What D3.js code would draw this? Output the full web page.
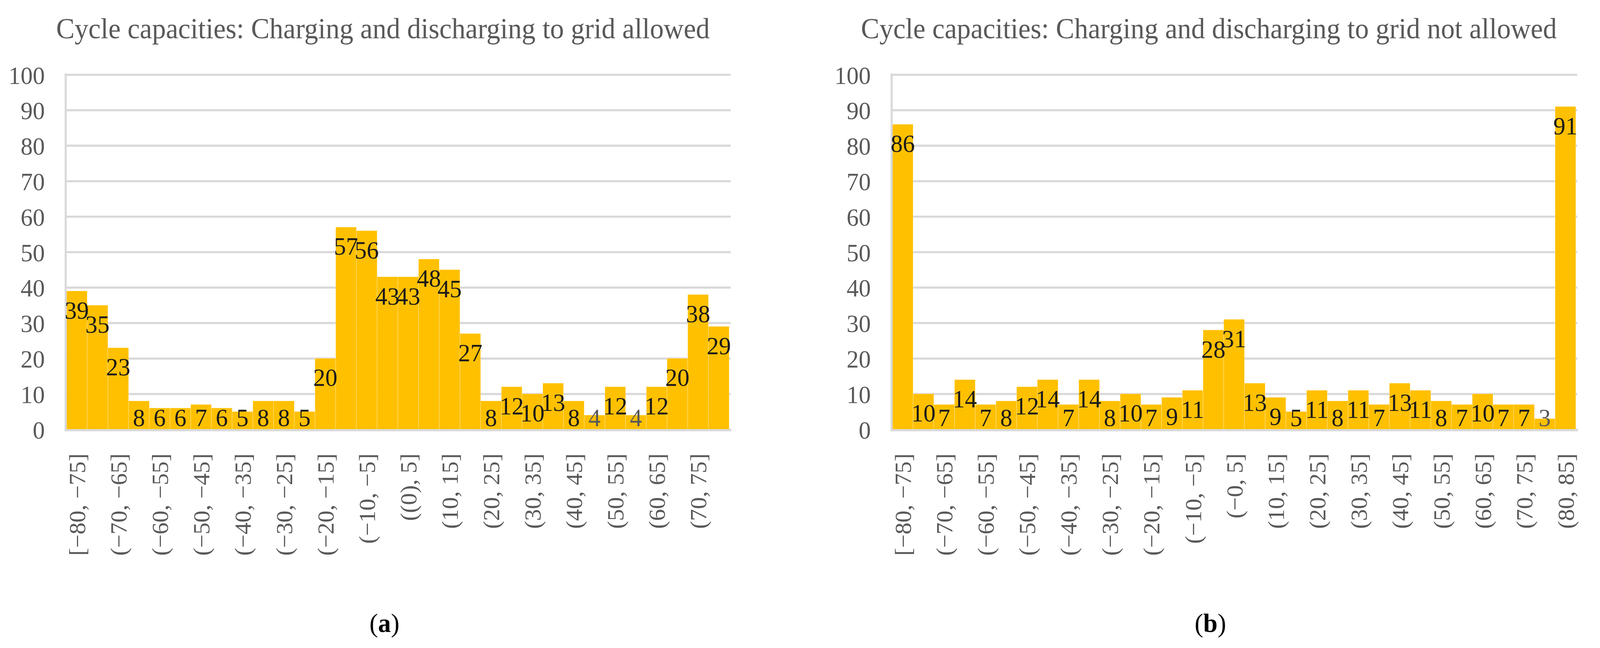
<!DOCTYPE html>
<html lang="en">
<head>
<meta charset="UTF-8">
<title>Cycle capacities</title>
<script src="https://cdn.jsdelivr.net/npm/d3@7"></script>
<style>
  html, body { margin: 0; padding: 0; width: 100%; height: 100%; overflow: hidden; background: #fff; }
  svg { display: block; width: 100vw; height: 100vh; }
  svg text { font-family: "Palatino Linotype", "Book Antiqua", Palatino, "Liberation Serif", serif; }
</style>
</head>
<body>
<svg viewBox="0 0 4226 1659" preserveAspectRatio="none"></svg>
<script>
// (a) charging and discharging to grid allowed
const binsA = ["[−80, −75]", "(−75, −70]", "(−70, −65]", "(−65, −60]", "(−60, −55]", "(−55, −50]",
  "(−50, −45]", "(−45, −40]", "(−40, −35]", "(−35, −30]", "(−30, −25]", "(−25, −20]",
  "(−20, −15]", "(−15, −10]", "(−10, −5]", "(−5, (0)]", "((0), 5]", "(5, 10]",
  "(10, 15]", "(15, 20]", "(20, 25]", "(25, 30]", "(30, 35]", "(35, 40]",
  "(40, 45]", "(45, 50]", "(50, 55]", "(55, 60]", "(60, 65]", "(65, 70]", "(70, 75]", "(75, 80]"];
const countsA = [39, 35, 23, 8, 6, 6, 7, 6, 5, 8, 8, 5, 20, 57, 56, 43, 43, 48, 45, 27,
  8, 12, 10, 13, 8, 4, 12, 4, 12, 20, 38, 29];

// (b) charging and discharging to grid not allowed
const binsB = ["[−80, −75]", "(−75, −70]", "(−70, −65]", "(−65, −60]", "(−60, −55]", "(−55, −50]",
  "(−50, −45]", "(−45, −40]", "(−40, −35]", "(−35, −30]", "(−30, −25]", "(−25, −20]",
  "(−20, −15]", "(−15, −10]", "(−10, −5]", "(−5, −0]", "(−0, 5]", "(5, 10]",
  "(10, 15]", "(15, 20]", "(20, 25]", "(25, 30]", "(30, 35]", "(35, 40]",
  "(40, 45]", "(45, 50]", "(50, 55]", "(55, 60]", "(60, 65]", "(65, 70]", "(70, 75]", "(75, 80]", "(80, 85]"];
const countsB = [86, 10, 7, 14, 7, 8, 12, 14, 7, 14, 8, 10, 7, 9, 11, 28, 31, 13, 9, 5,
  11, 8, 11, 7, 13, 11, 8, 7, 10, 7, 7, 3, 91];

const yTicks = [0, 10, 20, 30, 40, 50, 60, 70, 80, 90, 100];

const svg = d3.select("svg");
const barW = 54.7;
const gridColor = "#d9d9d9";
const grey = "#595959";
const y = d3.scaleLinear().domain([0, 100]).range([1099, 191]);

function panel(bins, counts, left, title, tag) {
  const x = d3.scaleBand().domain(bins).range([left, left + bins.length * barW]).paddingInner(0);
  const right = left + bins.length * barW;
  const g = svg.append("g");

  // gridlines + y tick labels
  const yAxis = d3.axisLeft(y).tickValues(yTicks).tickSize(-(right + 6 - left)).tickPadding(55);
  g.append("g")
    .attr("transform", `translate(${left - 2},0)`)
    .call(yAxis)
    .call(s => s.select(".domain").remove())
    .call(s => s.selectAll(".tick line").attr("stroke", gridColor).attr("stroke-width", 5.5))
    .call(s => s.selectAll(".tick text")
      .attr("fill", grey).attr("font-size", 64).attr("dy", "0.36em")
      .style("font-family", null));

  // bars
  g.append("g").selectAll("rect")
    .data(counts)
    .join("rect")
    .attr("x", (d, i) => x(bins[i]))
    .attr("y", d => y(d))
    .attr("width", x.bandwidth())
    .attr("height", d => y(0) - y(d))
    .attr("fill", "#ffc000")
    .attr("stroke", "#fff")
    .attr("stroke-opacity", 0.45)
    .attr("stroke-width", 1);

  // axis lines
  g.append("line")
    .attr("x1", left - 2).attr("x2", left - 2)
    .attr("y1", y(100) - 3).attr("y2", y(0) + 5)
    .attr("stroke", gridColor).attr("stroke-width", 5.5);
  g.append("line")
    .attr("x1", left - 5).attr("x2", right + 6)
    .attr("y1", y(0) + 2.5).attr("y2", y(0) + 2.5)
    .attr("stroke", gridColor).attr("stroke-width", 5.5);

  // data labels (inside end, pushed down to the axis for short bars)
  g.append("g").selectAll("text")
    .data(counts)
    .join("text")
    .attr("x", (d, i) => x(bins[i]) + x.bandwidth() / 2)
    .attr("y", d => Math.min(y(d) + 71, y(0) - 8))
    .attr("text-anchor", "middle")
    .attr("font-size", 64)
    .attr("fill", d => d < 5 ? grey : "#1a1a1a")
    .text(d => d);

  // category axis, every second label shown
  const xAxis = d3.axisBottom(x)
    .tickValues(bins.filter((b, i) => i % 2 === 0))
    .tickSize(0).tickPadding(0);
  g.append("g")
    .attr("transform", "translate(0,1161)")
    .call(xAxis)
    .call(s => s.select(".domain").remove())
    .call(s => s.selectAll(".tick text")
      .attr("transform", "rotate(-90)")
      .attr("text-anchor", "end")
      .attr("x", 0).attr("y", 0).attr("dy", "0.36em")
      .attr("fill", grey).attr("font-size", 61)
      .style("font-family", null));

  // title
  g.append("text")
    .attr("x", left + 836).attr("y", 98)
    .attr("text-anchor", "middle")
    .attr("font-size", 73)
    .attr("fill", grey)
    .text(title);

  // panel caption
  const cap = g.append("text")
    .attr("x", left + 840).attr("y", 1618)
    .attr("text-anchor", "middle")
    .attr("font-size", 68)
    .attr("fill", "#000");
  cap.append("tspan").text("(");
  cap.append("tspan").attr("font-weight", "bold").text(tag);
  cap.append("tspan").text(")");
}

panel(binsA, countsA, 175.5, "Cycle capacities: Charging and discharging to grid allowed", "a");
panel(binsB, countsB, 2357, "Cycle capacities: Charging and discharging to grid not allowed", "b");
</script>
</body>
</html>
